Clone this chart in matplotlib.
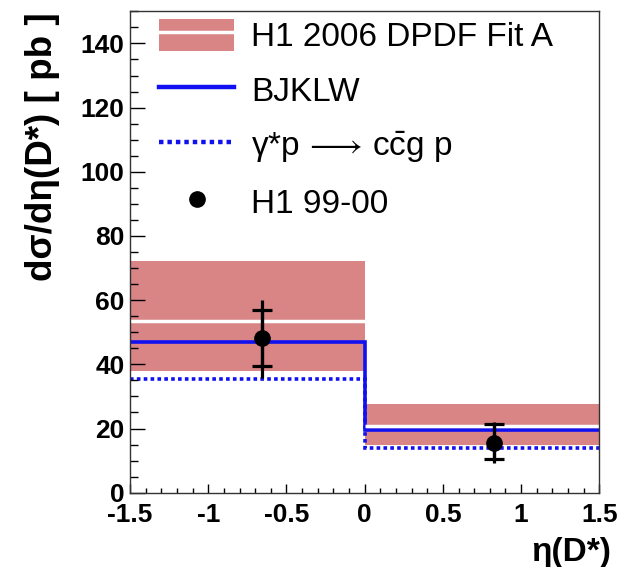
import matplotlib
matplotlib.use("Agg")
import matplotlib.pyplot as plt
from matplotlib.lines import Line2D
from matplotlib.patches import Patch
from matplotlib.ticker import MultipleLocator
import numpy as np

plt.rcParams['font.family'] = ['Liberation Sans', 'DejaVu Sans']
plt.rcParams['mathtext.fontset'] = 'custom'
plt.rcParams['mathtext.rm'] = 'Liberation Sans'
plt.rcParams['mathtext.it'] = 'Liberation Sans:italic'
plt.rcParams['mathtext.bf'] = 'Liberation Sans:bold'

# eta(D*) bins
edges = [-1.5, 0.0, 1.5]

# H1 2006 DPDF Fit A: central value and uncertainty band
fit_central = [53.6, 20.9]
fit_lo = [37.8, 14.9]
fit_hi = [72.3, 27.7]

# BJKLW and gamma* p -> c cbar g p predictions
bjklw = [46.9, 19.5]
ccg = [35.3, 13.9]

# H1 99-00 data
data_x = [-0.655, 0.825]
data_y = [48.3, 15.6]
stat_lo = [39.5, 10.4]
stat_hi = [57.0, 21.5]
tot_lo = [35.6, 9.3]
tot_hi = [60.0, 22.0]

pink = '#d98585'
blue = '#1010f0'

fig = plt.figure(figsize=(6.2, 5.67), dpi=100)
ax = fig.add_axes([0.2097, 0.131, 0.757, 0.849])

ax.stairs(fit_hi, edges, baseline=fit_lo, fill=True, color=pink, lw=0)
ax.hlines(fit_central, edges[:-1], edges[1:], colors='white', lw=2.5)
ax.stairs(ccg, edges, baseline=None, color=blue, lw=2.6, ls=(0, (1, 0.9)))
ax.stairs(bjklw, edges, baseline=None, color=blue, lw=2.6)

dy = np.array(data_y)
ax.errorbar(data_x, dy, yerr=[dy - tot_lo, np.array(tot_hi) - dy],
            fmt='none', ecolor='black', elinewidth=2.3, capsize=0)
ax.errorbar(data_x, dy, yerr=[dy - stat_lo, np.array(stat_hi) - dy],
            fmt='o', color='black', ms=11, elinewidth=2.3,
            capsize=7.5, capthick=2.3)

ax.set_xlim(-1.5, 1.5)
ax.set_ylim(0, 150)
ax.xaxis.set_major_locator(MultipleLocator(0.5))
ax.xaxis.set_minor_locator(MultipleLocator(0.1))
ax.yaxis.set_major_locator(MultipleLocator(20))
ax.yaxis.set_minor_locator(MultipleLocator(5))
ax.set_xticks([-1.5, -1, -0.5, 0, 0.5, 1, 1.5])
ax.set_xticklabels(['-1.5', '-1', '-0.5', '0', '0.5', '1', '1.5'])
ax.tick_params(axis='both', which='both', direction='in', top=False, right=False,
               labelsize=19, width=1.0)
ax.tick_params(axis='y', which='major', length=11, pad=4)
ax.tick_params(axis='y', which='minor', length=6)
ax.tick_params(axis='x', which='major', length=6.5, pad=7.5)
ax.tick_params(axis='x', which='minor', length=3.5)
for lab in ax.get_xticklabels() + ax.get_yticklabels():
    lab.set_fontweight('bold')
for sp in ax.spines.values():
    sp.set_linewidth(1.0)
    sp.set_color('#333333')

fig.text(0.0686, 0.978, 'dσ/dη(D*) [ pb ]', rotation=90, ha='center', va='top',
         fontsize=26.5, fontweight='bold')
fig.text(0.985, 0.025, 'η(D*)', ha='right', va='center',
         fontsize=24, fontweight='bold')

handles = [
    (Patch(facecolor=pink, edgecolor='none'), Line2D([], [], color='white', lw=2.5)),
    Line2D([], [], color=blue, lw=3.2),
    Line2D([], [], color=blue, lw=3.2, ls=(0, (1, 0.9))),
    Line2D([], [], color='black', marker='o', ls='none', ms=11),
]
labels = ['H1 2006 DPDF Fit A', 'BJKLW',
          'γ*p$\\,\\longrightarrow\\,$c$\\bar{\\mathrm{c}}$g p', 'H1 99-00']
ax.legend(handles, labels, loc='upper left', bbox_to_anchor=(0.062, 0.985),
          frameon=False, fontsize=24, handlelength=2.25, handleheight=1.1,
          handletextpad=0.5, labelspacing=0.62, borderaxespad=0, borderpad=0)

fig.savefig('out.png', dpi=100)
